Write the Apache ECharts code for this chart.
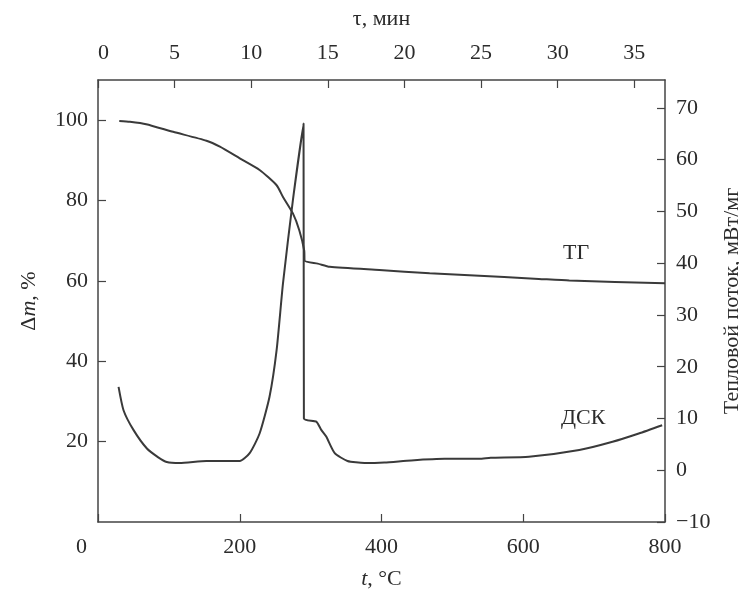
<!DOCTYPE html>
<html>
<head>
<meta charset="utf-8">
<script src="https://cdn.jsdelivr.net/npm/echarts@6/dist/echarts.min.js"></script>
<style>
  html, body { margin: 0; padding: 0; background: #fff; }
  #main { width: 739px; height: 590px; }
</style>
</head>
<body>
<div id="main"></div>
<script>
// ТГ: температура, °C -> потеря массы, %
const tgTemp = [30, 45, 68, 106, 153, 172, 200, 228, 252, 261, 275, 284, 291, 291.5, 310, 327, 397, 468, 524, 622, 665, 800]
const tgMass = [99.8, 99.6, 99.0, 97.1, 94.9, 93.4, 90.5, 87.6, 83.8, 80.9, 76.8, 72.6, 67.5, 65.0, 64.3, 63.5, 62.7, 61.9, 61.4, 60.5, 60.1, 59.4]

// ДСК: температура, °C -> тепловой поток, мВт/мг
const dscTemp = [29, 36, 50, 69, 85, 97, 115, 153, 200, 214, 228, 242, 252, 261, 275, 290, 290.5, 308, 315, 322, 334, 352, 376, 404, 442, 489, 538, 554, 608, 679, 726, 763, 796]
const dscFlow = [16.1, 11.6, 7.8, 4.2, 2.5, 1.6, 1.4, 1.8, 1.8, 3.3, 7.1, 14.2, 23.2, 36.1, 52.2, 67.0, 10.0, 9.4, 7.8, 6.5, 3.3, 1.8, 1.4, 1.5, 1.9, 2.2, 2.2, 2.4, 2.6, 3.9, 5.5, 7.1, 8.7]

const tempTicks = [0, 200, 400, 600, 800]   // нижняя ось
const timeMax = 37                          // верхняя ось, мин

const font = 'Liberation Serif'
const ink = '#2b2b2b'

const chart = echarts.init(document.getElementById('main'))

const axisBase = {
    axisLine: { show: true, onZero: false, lineStyle: { color: '#444', width: 1.5 } },
    axisTick: { show: true, inside: true, length: 8, lineStyle: { color: '#444', width: 1.2 } },
    splitLine: { show: false },
    axisLabel: { color: ink, fontFamily: font, fontSize: 22 },
    nameTextStyle: { color: ink, fontFamily: font, fontSize: 22 }
}
const italic = { i: { fontStyle: 'italic', fontFamily: font, fontSize: 22, color: ink } }

chart.setOption({
    animation: false,
    backgroundColor: '#fff',
    grid: { left: 98, right: 74, top: 80, bottom: 68, outerBoundsMode: 'none', containLabel: false },
    xAxis: [
        {
            ...axisBase,
            type: 'value', position: 'bottom',
            min: tempTicks[0], max: tempTicks[tempTicks.length - 1], interval: 200,
            axisLabel: { ...axisBase.axisLabel, margin: 14, alignMinLabel: 'right',
                formatter: v => (v === 0 ? '0  ' : String(v)) },
            name: '{i|t}, °C', nameLocation: 'middle', nameGap: 46,
            nameTextStyle: { ...axisBase.nameTextStyle, rich: italic }
        },
        {
            ...axisBase,
            type: 'value', position: 'top',
            min: 0, max: timeMax, interval: 5,
            axisLabel: { ...axisBase.axisLabel, margin: 16, showMaxLabel: false, alignMinLabel: 'left' },
            name: 'τ, мин', nameLocation: 'middle', nameGap: 50
        }
    ],
    yAxis: [
        {
            ...axisBase,
            type: 'value', position: 'left',
            min: 0, max: 110, interval: 20,
            axisLabel: { ...axisBase.axisLabel, margin: 10, showMinLabel: false, showMaxLabel: false },
            name: 'Δ{i|m}, %', nameLocation: 'middle', nameGap: 58, nameRotate: 90,
            nameTextStyle: { ...axisBase.nameTextStyle, rich: italic }
        },
        {
            ...axisBase,
            type: 'value', position: 'right',
            min: -10, max: 75.4, interval: 10,
            axisLabel: { ...axisBase.axisLabel, margin: 11, showMaxLabel: false,
                formatter: v => (v < 0 ? '\u2212' + Math.abs(v) : String(v)) },
            name: 'Тепловой поток, мВт/мг', nameLocation: 'middle', nameGap: 28, nameRotate: 90
        }
    ],
    series: [
        {
            name: 'ТГ', type: 'line', xAxisIndex: 0, yAxisIndex: 0,
            data: tgTemp.map((t, i) => [t, tgMass[i]]),
            showSymbol: false, smooth: 0.2,
            lineStyle: { color: '#3a3a3a', width: 2 }
        },
        {
            name: 'ДСК', type: 'line', xAxisIndex: 0, yAxisIndex: 1,
            data: dscTemp.map((t, i) => [t, dscFlow[i]]),
            showSymbol: false, smooth: 0.2,
            lineStyle: { color: '#3a3a3a', width: 2 }
        }
    ],
    graphic: [
        { type: 'text', left: 563, top: 242, style: { text: 'ТГ', fontFamily: font, fontSize: 22, fill: ink } },
        { type: 'text', left: 561, top: 407, style: { text: 'ДСК', fontFamily: font, fontSize: 22, fill: ink } }
    ]
})
</script>
</body>
</html>
